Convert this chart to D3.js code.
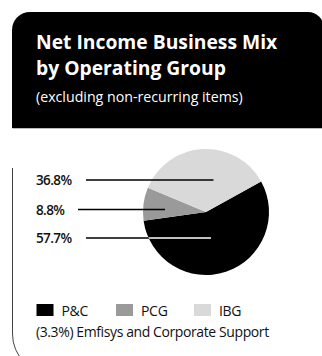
<!DOCTYPE html>
<html>
<head>
<meta charset="utf-8">
<script src="https://cdn.jsdelivr.net/npm/d3@7/dist/d3.min.js"></script>
<style>
  html, body { margin: 0; padding: 0; background: #fff; }
  svg { display: block; }
  text { font-family: "Open Sans", sans-serif; }
</style>
</head>
<body>
<svg id="chart" width="322" height="356"></svg>
<script>
// Net income share by operating group (percent)
const groups = ["P&C", "PCG", "IBG"];
const shares = [57.7, 8.8, 36.8];
const shareLabels = ["57.7%", "8.8%", "36.8%"];
const fills = ["#000000", "#9a9a9a", "#d9d9d9"];
const titleLines = ["Net Income Business Mix", "by Operating Group"];
const subtitle = "(excluding non-recurring items)";
const footnote = "(3.3%) Emfisys and Corporate Support";

const svg = d3.select("#chart");

// Card: rounded black header above a white body with a thin outline
const L = 12.5, T = 12, R = 324, HB = 128, rTop = 18, rTR = 16;
svg.append("path")
  .attr("d", `M${L},${HB + 40} V${334} A40,40 0 0 0 ${L + 40},${374} H${R} V${HB}`)
  .attr("fill", "#fff").attr("stroke", "#444").attr("stroke-width", 1);
svg.append("path")
  .attr("d", `M${L - 0.5},${HB} V${T + rTop} A${rTop},${rTop} 0 0 1 ${L - 0.5 + rTop},${T}
              H${R - rTR} A${rTR},${rTR} 0 0 1 ${R},${T + rTR} V${HB} Z`)
  .attr("fill", "#000");
svg.append("line").attr("x1", L).attr("x2", 322).attr("y1", HB + 0.5).attr("y2", HB + 0.5)
  .attr("stroke", "#bbb").attr("stroke-width", 1);

svg.selectAll("text.title").data(titleLines).join("text")
  .attr("class", "title")
  .attr("x", 36).attr("y", (d, i) => 49 + i * 26)
  .attr("fill", "#fff").attr("font-size", 19.3).attr("font-weight", 700)
  .text(d => d);
svg.append("text").attr("x", 36).attr("y", 102)
  .attr("fill", "#fff").attr("font-size", 14.2).text(subtitle);

// Pie
const cx = 206, cy = 212, radius = 63;
const startDeg = 61;
const pie = d3.pie().sort(null).value(d => d)
  .startAngle(startDeg * Math.PI / 180)
  .endAngle((startDeg + 360) * Math.PI / 180);
const arcs = pie(shares);
const arc = d3.arc().innerRadius(0).outerRadius(radius);
const g = svg.append("g").attr("transform", `translate(${cx},${cy})`);
g.selectAll("path.slice").data(arcs).join("path")
  .attr("class", "slice")
  .attr("d", arc)
  .attr("fill", (d, i) => fills[i]);

// Leader lines with value labels; the P&C leader turns white over its own slice
const leaders = [
  { i: 2, y: 180, x0: 86, x1: 213.5 },
  { i: 1, y: 209.5, x0: 78, x1: 165 },
  { i: 0, y: 238, x0: 86, x1: 211 }
];
svg.append("clipPath").attr("id", "pcClip")
  .append("path").attr("transform", `translate(${cx},${cy})`).attr("d", arc(arcs[0]));
leaders.forEach(l => {
  svg.append("line").attr("x1", l.x0).attr("x2", l.x1).attr("y1", l.y).attr("y2", l.y)
    .attr("stroke", "#000").attr("stroke-width", 1.3);
  svg.append("line").attr("x1", l.x0).attr("x2", l.x1).attr("y1", l.y).attr("y2", l.y)
    .attr("stroke", "#fff").attr("stroke-width", 1.3)
    .attr("clip-path", "url(#pcClip)");
  svg.append("text").attr("x", 36).attr("y", l.y + 5)
    .attr("font-size", 13.5).attr("font-weight", 600).attr("fill", "#111")
    .attr("letter-spacing", -0.6)
    .text(shareLabels[l.i]);
});

// Legend
const legendX = [36.5, 116, 194];
const lg = svg.selectAll("g.legend").data(groups).join("g")
  .attr("class", "legend")
  .attr("transform", (d, i) => `translate(${legendX[i]},304)`);
lg.append("rect").attr("width", 17).attr("height", 12).attr("fill", (d, i) => fills[i]);
lg.append("text").attr("x", 25).attr("y", 12).attr("font-size", 14).attr("fill", "#111")
  .attr("letter-spacing", -0.3).text(d => d);

svg.append("text").attr("x", 36).attr("y", 337)
  .attr("font-size", 14).attr("fill", "#111").attr("letter-spacing", -0.4).text(footnote);
</script>
</body>
</html>
